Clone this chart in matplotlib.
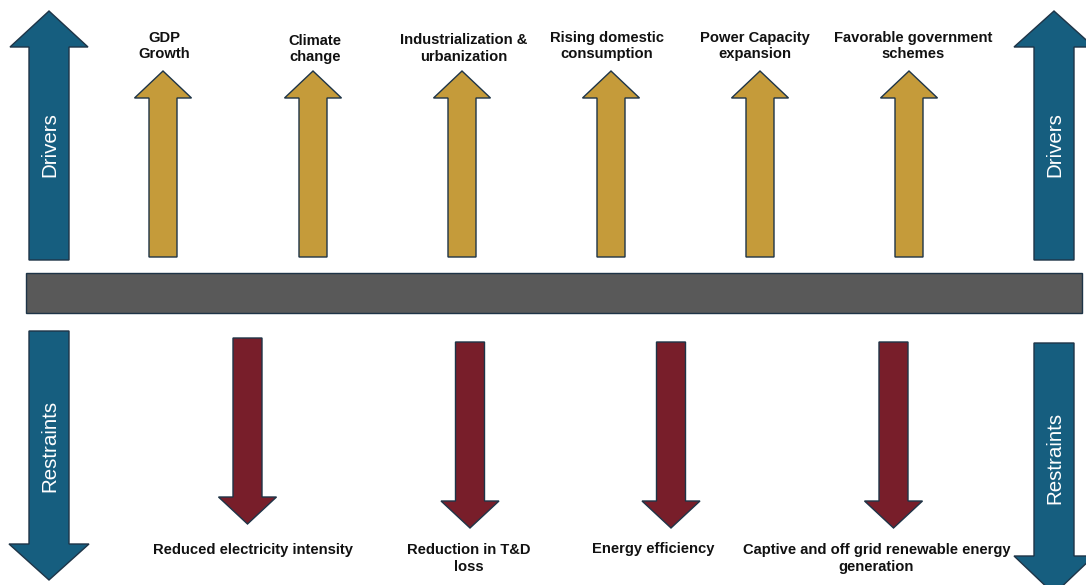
import matplotlib
matplotlib.use("Agg")
import matplotlib.pyplot as plt
from matplotlib.patches import Polygon, Rectangle

# ---- data ----
driver_labels = ["GDP\nGrowth", "Climate\nchange", "Industrialization &\nurbanization",
                 "Rising domestic\nconsumption", "Power Capacity\nexpansion",
                 "Favorable government\nschemes"]
driver_x = [163, 313, 462, 611, 760, 909]
driver_label_x = [164, 315, 464, 607, 755, 913]
driver_label_y = [46, 49, 48.5, 46, 46, 46]

restraint_labels = ["Reduced electricity intensity", "Reduction in T&D\nloss",
                    "Energy efficiency", "Captive and off grid renewable energy\ngeneration"]
restraint_x = [247.5, 470, 671, 893.5]
restraint_label_x = [253, 469, 653, 876.5]
restraint_label_y = [550, 558.5, 549, 558.5]
restraint_top = [338, 342, 342, 342]

side_x = [49, 1054]

# ---- styles ----
BLUE = "#165E7F"
GOLD = "#C59B3A"
RED = "#781E2A"
GRAY = "#595959"
EDGE = "#1E3447"

W, H = 1086, 585
fig = plt.figure(figsize=(W / 100, H / 100), dpi=100)
ax = fig.add_axes([0, 0, 1, 1])
ax.set_xlim(0, W)
ax.set_ylim(H, 0)
ax.axis("off")


def arrow(cx, tail, base, tip, sw, hw, color, lw=1.0):
    pts = [(cx - sw, tail), (cx - sw, base), (cx - hw, base), (cx, tip),
           (cx + hw, base), (cx + sw, base), (cx + sw, tail)]
    ax.add_patch(Polygon(pts, closed=True, facecolor=color, edgecolor=EDGE,
                         linewidth=lw, joinstyle="miter"))


# side blue arrows
arrow(side_x[0], 260, 47, 11, 20, 39, BLUE)
arrow(side_x[1], 260, 47, 11, 20, 40, BLUE)
arrow(side_x[0], 331, 544, 580, 20, 40, BLUE)
arrow(side_x[1], 343, 556, 594, 20, 40, BLUE)

side_font = dict(family=["Liberation Sans", "DejaVu Sans"], fontsize=14.8,
                 color="white", rotation=90, ha="center", va="center")
ax.text(side_x[0] + 1, 145, "Drivers", **side_font)
ax.text(side_x[1] + 1, 145, "Drivers", **side_font)
ax.text(side_x[0] + 1, 446, "Restraints", **side_font)
ax.text(side_x[1] + 1, 458, "Restraints", **side_font)

# gray bar
ax.add_patch(Rectangle((26, 273), 1056, 40, facecolor=GRAY, edgecolor=EDGE, linewidth=1.0))

lab_font = dict(family=["Liberation Sans", "DejaVu Sans"], fontsize=10.6,
                fontweight="bold", color="#111111", ha="center", va="center",
                linespacing=1.25)

# driver arrows
for x, lab, lx, ly in zip(driver_x, driver_labels, driver_label_x, driver_label_y):
    arrow(x, 257, 98, 71, 14, 28.5, GOLD)
    ax.text(lx, ly, lab, **lab_font)

# restraint arrows
for x, lab, lx, ly, top in zip(restraint_x, restraint_labels, restraint_label_x,
                               restraint_label_y, restraint_top):
    arrow(x, top, top + 159, top + 186, 14.5, 29, RED)
    ax.text(lx, ly, lab, **lab_font)

fig.savefig("out.png", dpi=100, facecolor="white")
